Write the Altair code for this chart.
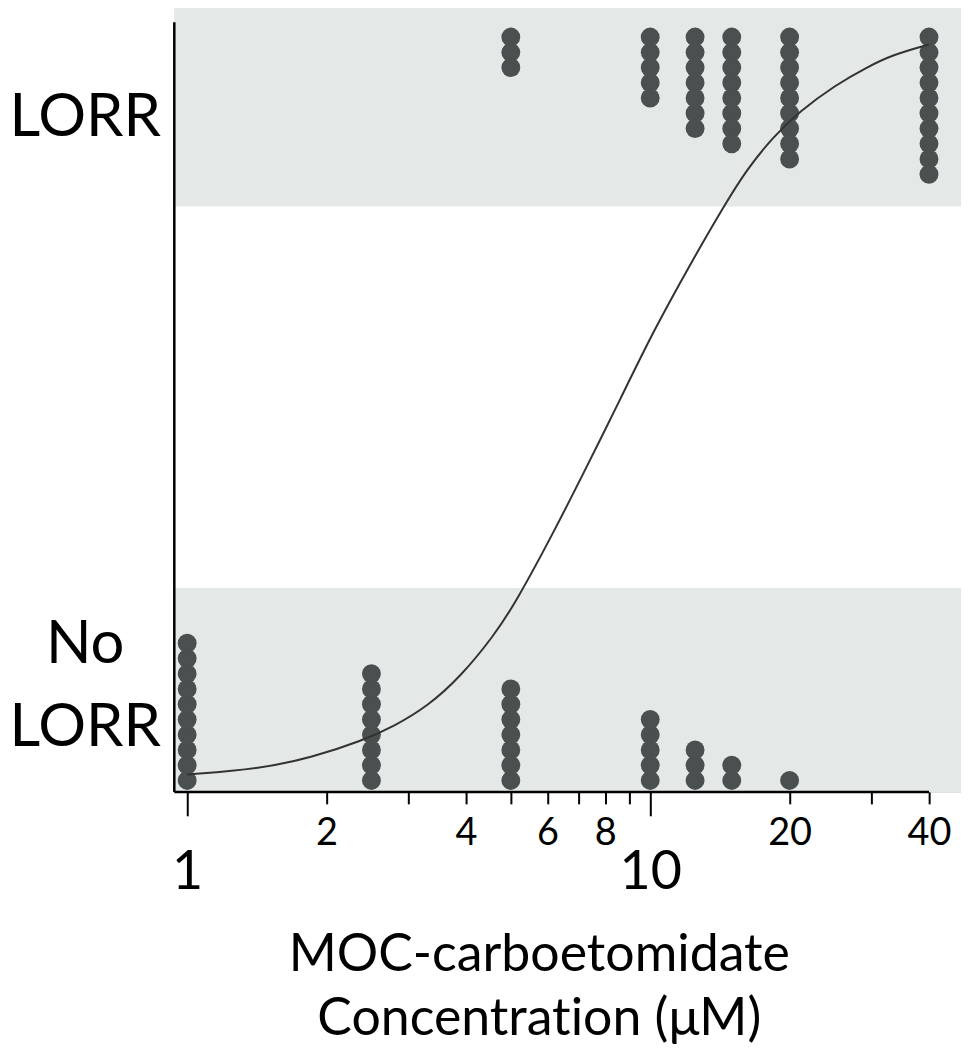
import altair as alt
import pandas as pd

# ---- data ----
conc = [1, 2.5, 5, 10, 12.5, 15, 20, 40]
no_lorr_counts = [10, 8, 7, 5, 3, 2, 1, 0]
lorr_counts = [0, 0, 3, 5, 7, 8, 9, 10]
dot_step = 0.0205  # vertical spacing of stacked dots (probability units)

curve_conc = [1.0, 1.45, 1.86, 2.38, 2.80, 3.31, 3.90, 4.60, 5.13, 6.19, 7.32,
              8.62, 10.15, 12.19, 14.5, 16.17, 18.39, 21.0, 25.2, 29.3, 33.3, 40.0]
curve_p = [0.008, 0.016, 0.031, 0.053, 0.073, 0.100, 0.140, 0.195, 0.240, 0.334,
           0.424, 0.513, 0.604, 0.694, 0.775, 0.822, 0.865, 0.900, 0.936, 0.959,
           0.976, 0.990]

x_domain = [0.938, 46.9]
y_domain = [-0.0154, 1.0469]
band_lo = [0.772, -0.0154]
band_hi = [1.0469, 0.259]
y_axis_top = 1.020
x_axis_end = 40

x_tick_values = [1, 2, 3, 4, 5, 6, 7, 8, 9, 10, 20, 30, 40]
x_labelled = [1, 2, 4, 6, 8, 10, 20, 40]
x_big = [1, 10]
y_label_pos = [0.0717, 0.183, 0.892]
y_label_text = ["LORR", "No", "LORR"]
x_title = ["MOC-carboetomidate", "Concentrat\u200cion (\u03bcM)"]

# ---- tables ----
rows = []
for c, n0, n1 in zip(conc, no_lorr_counts, lorr_counts):
    for k in range(n0):
        rows.append({"conc": c, "p": k * dot_step, "outcome": "No LORR"})
    for k in range(n1):
        rows.append({"conc": c, "p": 1 - k * dot_step, "outcome": "LORR"})
dots_df = pd.DataFrame(rows)
curve_df = pd.DataFrame({"conc": curve_conc, "p": curve_p})
band_df = pd.DataFrame({"x": [x_domain[0]] * 2, "x2": [x_domain[1]] * 2,
                        "y": band_lo, "y2": band_hi})
xrule_df = pd.DataFrame({"x": [x_domain[0]], "x2": [x_axis_end], "y": [y_domain[0]]})
yrule_df = pd.DataFrame({"x": [x_domain[0]], "y": [y_domain[0]], "y2": [y_axis_top]})

W, H = 790, 793
FONT = "Lato"

big_test = " || ".join(f"datum.value == {v}" for v in x_big)
lab_list = "[" + ",".join(str(v) for v in x_labelled) + "]"
ylab_expr = " : ".join(
    f"abs(datum.value - {p}) < 0.001 ? '{t}'" for p, t in zip(y_label_pos, y_label_text)
) + " : ''"

xscale = alt.Scale(type="log", domain=x_domain, nice=False)
yscale = alt.Scale(domain=y_domain, nice=False, zero=False)

x_axis = alt.Axis(
    values=x_tick_values,
    labelExpr=f"indexof({lab_list}, datum.value) >= 0 ? format(datum.value, 'd') : ''",
    domain=False, grid=False,
    tickColor="black", tickWidth=2,
    tickSize={"condition": {"test": big_test, "value": 24}, "value": 12},
    labelPadding={"condition": {"test": big_test, "value": 30}, "value": 11},
    labelFontSize={"condition": {"test": big_test, "value": 54}, "value": 38},
    labelFont=FONT, labelColor="black", labelBaseline="top", labelAlign="center",
    labelFlush=False, labelOverlap=False,
    title=x_title, titleFont=FONT, titleFontSize=52, titleFontWeight="normal",
    titleColor="black", titleLineHeight=65, titlePadding=30,
    titleX=366, titleAlign="center",
)
y_axis = alt.Axis(
    values=y_label_pos, labelExpr=ylab_expr,
    domain=False, grid=False, ticks=False, tickSize=0,
    labelFont=FONT, labelFontSize=60, labelColor="black",
    labelAlign="center", labelBaseline="middle", labelPadding=90,
    labelFlush=False, labelOverlap=False, title=None,
)

bands = alt.Chart(band_df).mark_rect(color="#e4e9e8").encode(
    x=alt.X("x:Q", scale=xscale, axis=x_axis),
    x2="x2:Q",
    y=alt.Y("y:Q", scale=yscale, axis=y_axis),
    y2="y2:Q",
)
dots = alt.Chart(dots_df).mark_circle(size=360, opacity=1, color="#4a504f").encode(
    x=alt.X("conc:Q", scale=xscale, axis=x_axis),
    y=alt.Y("p:Q", scale=yscale, axis=y_axis),
)
curve = alt.Chart(curve_df).mark_line(color="#333333", strokeWidth=2,
                                      interpolate="basis").encode(
    x=alt.X("conc:Q", scale=xscale, axis=x_axis),
    y=alt.Y("p:Q", scale=yscale, axis=y_axis),
)
xrule = alt.Chart(xrule_df).mark_rule(color="black", strokeWidth=2.5).encode(
    x=alt.X("x:Q", scale=xscale, axis=x_axis), x2="x2:Q",
    y=alt.Y("y:Q", scale=yscale, axis=y_axis),
)
yrule = alt.Chart(yrule_df).mark_rule(color="black", strokeWidth=2.5).encode(
    x=alt.X("x:Q", scale=xscale, axis=x_axis),
    y=alt.Y("y:Q", scale=yscale, axis=y_axis), y2="y2:Q",
)

chart = alt.layer(bands, dots, curve, xrule, yrule).properties(
    width=W, height=H, padding={"left": 0, "top": -8, "right": 0, "bottom": 0}
).configure_view(stroke=None).configure(background="white")

chart.save("out.html", embed_options={"renderer": "svg", "actions": False})
